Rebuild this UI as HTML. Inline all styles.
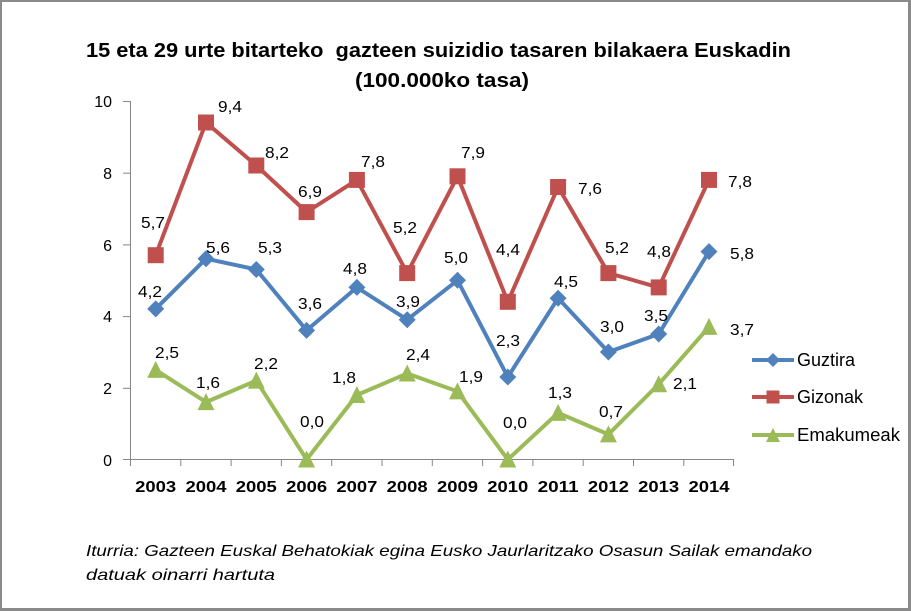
<!DOCTYPE html>
<html><head><meta charset="utf-8"><style>
html,body{margin:0;padding:0;background:#fff;}
svg{display:block;}
text{font-family:"Liberation Sans",Arial,sans-serif;fill:#000;}
</style></head><body>
<svg width="911" height="611" viewBox="0 0 911 611" xmlns="http://www.w3.org/2000/svg">
<rect x="0" y="0" width="911" height="611" fill="#8a8a8a"/>
<rect x="2" y="2" width="906" height="606" fill="#fff"/>

<!-- Title -->
<text x="86" y="57" font-size="20" font-weight="bold" textLength="705" lengthAdjust="spacingAndGlyphs">15 eta 29 urte bitarteko &#160;gazteen suizidio tasaren bilakaera Euskadin</text>
<text x="355" y="87" font-size="20" font-weight="bold" textLength="174" lengthAdjust="spacingAndGlyphs">(100.000ko tasa)</text>

<!-- Axes -->
<g stroke="#868686" stroke-width="1" fill="none">
<line x1="130.5" y1="101" x2="130.5" y2="459.5"/>
<line x1="130.5" y1="459.5" x2="734" y2="459.5"/>
<line x1="123" y1="101.5" x2="130.5" y2="101.5"/>
<line x1="123" y1="173.2" x2="130.5" y2="173.2"/>
<line x1="123" y1="244.9" x2="130.5" y2="244.9"/>
<line x1="123" y1="316.6" x2="130.5" y2="316.6"/>
<line x1="123" y1="388.3" x2="130.5" y2="388.3"/>
<line x1="123" y1="459.5" x2="130.5" y2="459.5"/>
<line x1="130.5" y1="459.5" x2="130.5" y2="466"/>
<line x1="180.8" y1="459.5" x2="180.8" y2="466"/>
<line x1="231.1" y1="459.5" x2="231.1" y2="466"/>
<line x1="281.4" y1="459.5" x2="281.4" y2="466"/>
<line x1="331.7" y1="459.5" x2="331.7" y2="466"/>
<line x1="382.0" y1="459.5" x2="382.0" y2="466"/>
<line x1="432.3" y1="459.5" x2="432.3" y2="466"/>
<line x1="482.6" y1="459.5" x2="482.6" y2="466"/>
<line x1="532.9" y1="459.5" x2="532.9" y2="466"/>
<line x1="583.2" y1="459.5" x2="583.2" y2="466"/>
<line x1="633.5" y1="459.5" x2="633.5" y2="466"/>
<line x1="683.8" y1="459.5" x2="683.8" y2="466"/>
<line x1="733.5" y1="459.5" x2="733.5" y2="466"/>
</g>

<!-- Y tick labels -->
<g font-size="16" text-anchor="end">
<text x="112" y="107">10</text>
<text x="112" y="179">8</text>
<text x="112" y="251">6</text>
<text x="112" y="322">4</text>
<text x="112" y="394">2</text>
<text x="112" y="466">0</text>
</g>

<!-- X labels -->
<g font-size="16" font-weight="bold" text-anchor="middle">
<text x="155.7" y="492" textLength="41" lengthAdjust="spacingAndGlyphs">2003</text>
<text x="206.0" y="492" textLength="41" lengthAdjust="spacingAndGlyphs">2004</text>
<text x="256.3" y="492" textLength="41" lengthAdjust="spacingAndGlyphs">2005</text>
<text x="306.6" y="492" textLength="41" lengthAdjust="spacingAndGlyphs">2006</text>
<text x="356.9" y="492" textLength="41" lengthAdjust="spacingAndGlyphs">2007</text>
<text x="407.2" y="492" textLength="41" lengthAdjust="spacingAndGlyphs">2008</text>
<text x="457.5" y="492" textLength="41" lengthAdjust="spacingAndGlyphs">2009</text>
<text x="507.8" y="492" textLength="41" lengthAdjust="spacingAndGlyphs">2010</text>
<text x="558.1" y="492" textLength="41" lengthAdjust="spacingAndGlyphs">2011</text>
<text x="608.4" y="492" textLength="41" lengthAdjust="spacingAndGlyphs">2012</text>
<text x="658.7" y="492" textLength="41" lengthAdjust="spacingAndGlyphs">2013</text>
<text x="709.0" y="492" textLength="41" lengthAdjust="spacingAndGlyphs">2014</text>
</g>

<!-- Series lines -->
<polyline fill="none" stroke="#C0504D" stroke-width="4" stroke-linejoin="round" points="155.7,255.2 206.0,122.5 256.3,165.5 306.6,212.1 356.9,179.9 407.2,273.1 457.5,176.3 507.8,301.8 558.1,187.0 608.4,273.1 658.7,287.4 709.0,179.9"/>
<polyline fill="none" stroke="#4F81BD" stroke-width="4" stroke-linejoin="round" points="155.7,308.9 206.0,258.7 256.3,269.5 306.6,330.4 356.9,287.4 407.2,319.7 457.5,280.3 507.8,377.0 558.1,298.2 608.4,352.0 658.7,334.0 709.0,251.6"/>
<polyline fill="none" stroke="#9BBB59" stroke-width="4" stroke-linejoin="round" points="155.7,369.9 206.0,402.1 256.3,380.6 306.6,459.5 356.9,395.0 407.2,373.5 457.5,391.4 507.8,459.5 558.1,412.9 608.4,434.4 658.7,384.2 709.0,326.9"/>

<!-- Gizonak squares -->
<g fill="#C0504D">
<rect x="147.7" y="247.2" width="16" height="16"/>
<rect x="198.0" y="114.5" width="16" height="16"/>
<rect x="248.3" y="157.5" width="16" height="16"/>
<rect x="298.6" y="204.1" width="16" height="16"/>
<rect x="348.9" y="171.9" width="16" height="16"/>
<rect x="399.2" y="265.1" width="16" height="16"/>
<rect x="449.5" y="168.3" width="16" height="16"/>
<rect x="499.8" y="293.8" width="16" height="16"/>
<rect x="550.1" y="179.0" width="16" height="16"/>
<rect x="600.4" y="265.1" width="16" height="16"/>
<rect x="650.7" y="279.4" width="16" height="16"/>
<rect x="701.0" y="171.9" width="16" height="16"/>
</g>

<!-- Guztira diamonds -->
<g fill="#4F81BD">
<polygon points="155.7,300.4 164.2,308.9 155.7,317.4 147.2,308.9"/>
<polygon points="206.0,250.2 214.5,258.7 206.0,267.2 197.5,258.7"/>
<polygon points="256.3,261.0 264.8,269.5 256.3,278.0 247.8,269.5"/>
<polygon points="306.6,321.9 315.1,330.4 306.6,338.9 298.1,330.4"/>
<polygon points="356.9,278.9 365.4,287.4 356.9,295.9 348.4,287.4"/>
<polygon points="407.2,311.2 415.7,319.7 407.2,328.2 398.7,319.7"/>
<polygon points="457.5,271.8 466.0,280.3 457.5,288.8 449.0,280.3"/>
<polygon points="507.8,368.5 516.3,377.0 507.8,385.5 499.3,377.0"/>
<polygon points="558.1,289.7 566.6,298.2 558.1,306.7 549.6,298.2"/>
<polygon points="608.4,343.5 616.9,352.0 608.4,360.5 599.9,352.0"/>
<polygon points="658.7,325.5 667.2,334.0 658.7,342.5 650.2,334.0"/>
<polygon points="709.0,243.1 717.5,251.6 709.0,260.1 700.5,251.6"/>
</g>

<!-- Emakumeak triangles -->
<g fill="#9BBB59">
<polygon points="155.7,360.9 164.2,377.9 147.2,377.9"/>
<polygon points="206.0,393.1 214.5,410.1 197.5,410.1"/>
<polygon points="256.3,371.6 264.8,388.6 247.8,388.6"/>
<polygon points="306.6,450.5 315.1,467.5 298.1,467.5"/>
<polygon points="356.9,386.0 365.4,403.0 348.4,403.0"/>
<polygon points="407.2,364.5 415.7,381.5 398.7,381.5"/>
<polygon points="457.5,382.4 466.0,399.4 449.0,399.4"/>
<polygon points="507.8,450.5 516.3,467.5 499.3,467.5"/>
<polygon points="558.1,403.9 566.6,420.9 549.6,420.9"/>
<polygon points="608.4,425.4 616.9,442.4 599.9,442.4"/>
<polygon points="658.7,375.2 667.2,392.2 650.2,392.2"/>
<polygon points="709.0,317.9 717.5,334.9 700.5,334.9"/>
</g>

<!-- Data labels -->
<g font-size="16" text-anchor="middle">
<!-- Gizonak -->
<text x="153" y="228" textLength="24" lengthAdjust="spacingAndGlyphs">5,7</text>
<text x="230" y="112" textLength="24" lengthAdjust="spacingAndGlyphs">9,4</text>
<text x="277" y="158" textLength="24" lengthAdjust="spacingAndGlyphs">8,2</text>
<text x="310" y="197" textLength="24" lengthAdjust="spacingAndGlyphs">6,9</text>
<text x="373" y="167" textLength="24" lengthAdjust="spacingAndGlyphs">7,8</text>
<text x="405" y="233" textLength="24" lengthAdjust="spacingAndGlyphs">5,2</text>
<text x="473" y="158" textLength="24" lengthAdjust="spacingAndGlyphs">7,9</text>
<text x="508" y="255" textLength="24" lengthAdjust="spacingAndGlyphs">4,4</text>
<text x="590" y="194" textLength="24" lengthAdjust="spacingAndGlyphs">7,6</text>
<text x="617" y="253" textLength="24" lengthAdjust="spacingAndGlyphs">5,2</text>
<text x="659" y="257" textLength="24" lengthAdjust="spacingAndGlyphs">4,8</text>
<text x="740" y="187" textLength="24" lengthAdjust="spacingAndGlyphs">7,8</text>
<!-- Guztira -->
<text x="150" y="297" textLength="24" lengthAdjust="spacingAndGlyphs">4,2</text>
<text x="218" y="253" textLength="24" lengthAdjust="spacingAndGlyphs">5,6</text>
<text x="270" y="253" textLength="24" lengthAdjust="spacingAndGlyphs">5,3</text>
<text x="310" y="309" textLength="24" lengthAdjust="spacingAndGlyphs">3,6</text>
<text x="355" y="274" textLength="24" lengthAdjust="spacingAndGlyphs">4,8</text>
<text x="408" y="307" textLength="24" lengthAdjust="spacingAndGlyphs">3,9</text>
<text x="456" y="263" textLength="24" lengthAdjust="spacingAndGlyphs">5,0</text>
<text x="508" y="346" textLength="24" lengthAdjust="spacingAndGlyphs">2,3</text>
<text x="566" y="287" textLength="24" lengthAdjust="spacingAndGlyphs">4,5</text>
<text x="612" y="332" textLength="24" lengthAdjust="spacingAndGlyphs">3,0</text>
<text x="656" y="321" textLength="24" lengthAdjust="spacingAndGlyphs">3,5</text>
<text x="742" y="259" textLength="24" lengthAdjust="spacingAndGlyphs">5,8</text>
<!-- Emakumeak -->
<text x="167" y="358" textLength="24" lengthAdjust="spacingAndGlyphs">2,5</text>
<text x="208" y="388" textLength="24" lengthAdjust="spacingAndGlyphs">1,6</text>
<text x="266" y="369" textLength="24" lengthAdjust="spacingAndGlyphs">2,2</text>
<text x="312" y="427" textLength="24" lengthAdjust="spacingAndGlyphs">0,0</text>
<text x="344" y="383" textLength="24" lengthAdjust="spacingAndGlyphs">1,8</text>
<text x="418" y="360" textLength="24" lengthAdjust="spacingAndGlyphs">2,4</text>
<text x="471" y="382" textLength="24" lengthAdjust="spacingAndGlyphs">1,9</text>
<text x="515" y="428" textLength="24" lengthAdjust="spacingAndGlyphs">0,0</text>
<text x="560" y="398" textLength="24" lengthAdjust="spacingAndGlyphs">1,3</text>
<text x="611" y="417" textLength="24" lengthAdjust="spacingAndGlyphs">0,7</text>
<text x="685" y="389" textLength="24" lengthAdjust="spacingAndGlyphs">2,1</text>
<text x="742" y="335" textLength="24" lengthAdjust="spacingAndGlyphs">3,7</text>
</g>

<!-- Legend -->
<line x1="752" y1="360" x2="794" y2="360" stroke="#4F81BD" stroke-width="4"/>
<polygon points="773,353 780,360 773,367 766,360" fill="#4F81BD"/>
<text x="797" y="366" font-size="18">Guztira</text>
<line x1="752" y1="397" x2="794" y2="397" stroke="#C0504D" stroke-width="4"/>
<rect x="766.5" y="390.5" width="13" height="13" fill="#C0504D"/>
<text x="797" y="403" font-size="18">Gizonak</text>
<line x1="752" y1="435" x2="794" y2="435" stroke="#9BBB59" stroke-width="4"/>
<polygon points="773,428 780,442 766,442" fill="#9BBB59"/>
<text x="797" y="441" font-size="18" textLength="103" lengthAdjust="spacingAndGlyphs">Emakumeak</text>

<!-- Footer -->
<text x="86" y="556" font-size="16" font-style="italic" textLength="726" lengthAdjust="spacingAndGlyphs">Iturria: Gazteen Euskal Behatokiak egina Eusko Jaurlaritzako Osasun Sailak emandako</text>
<text x="86" y="580" font-size="16" font-style="italic" textLength="189" lengthAdjust="spacingAndGlyphs">datuak oinarri hartuta</text>
</svg>
</body></html>
